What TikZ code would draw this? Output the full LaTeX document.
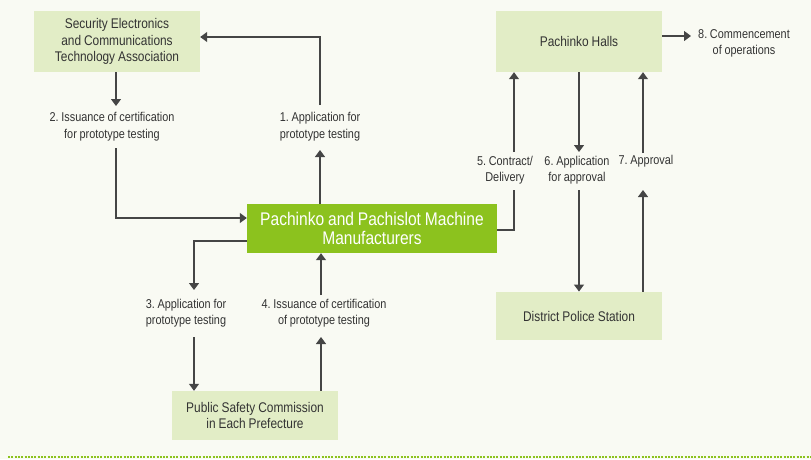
\documentclass[tikz,border=0pt]{standalone}
\usepackage{fontspec}
\setmainfont[FakeStretch=0.85,WordSpace=0.9]{Liberation Sans}
\usetikzlibrary{arrows.meta,calc}
\definecolor{bg}{HTML}{F9FAF3}
\definecolor{lgreen}{HTML}{E2EDC6}
\definecolor{dgreen}{HTML}{8CC21E}
\definecolor{ink}{HTML}{333333}
\definecolor{lnk}{HTML}{454545}
\frenchspacing
\begin{document}
\begin{tikzpicture}[x=1pt,y=-1pt,
 box/.style={fill=lgreen, text=ink, align=center, inner sep=0pt, minimum width=166pt, font=\fontsize{14}{16.5}\selectfont},
 mainbox/.style={fill=dgreen, text=white, align=center, inner sep=0pt, minimum width=250pt, minimum height=49pt, font=\fontsize{18.3}{19.5}\selectfont},
 lab/.style={text=ink, align=center, inner sep=0pt, font=\fontsize{12.8}{16.5}\selectfont},
 arr/.style={draw=lnk, line width=1.3pt, -{Triangle[width=10pt,length=7pt]}},
 ln/.style={draw=lnk, line width=1.3pt}]
\fill[bg] (0,0) rectangle (811,459);
\useasboundingbox (0,0) rectangle (811,459);

\node[box, minimum height=61pt] (secta) at (117,41.5) {Security Electronics\\and Communications\\Technology Association};
\node[box, minimum height=61pt] (halls) at (579,41.5) {Pachinko Halls};
\node[mainbox] (man) at (372,228.5) {Pachinko and Pachislot Machine\\Manufacturers};
\node[box, minimum height=48.5pt] (police) at (579,316) {District Police Station};
\node[box, minimum height=49pt] (psc) at (255,415.5) {Public Safety Commission\\in Each Prefecture};

\node[lab] (l1) at (320,126.5) {1. Application for\\prototype testing};
\node[lab] (l2) at (112,126.5) {2. Issuance of certification\\for prototype testing};
\node[lab] (l3) at (186,313) {3. Application for\\prototype testing};
\node[lab] (l4) at (324,313) {4. Issuance of certification\\of prototype testing};
\node[lab] (l5) at (505,170) {5. Contract/\\Delivery};
\node[lab] (l6) at (577,170) {6. Application\\for approval};
\node[lab] (l7) at (646,161) {7. Approval};
\node[lab] (l8) at (744,43.5) {8. Commencement\\of operations};

\coordinate (a1) at (320,150); \coordinate (b1) at (320,105);
\draw[arr] (man.north -| a1) -- (a1);
\draw[arr] (b1) |- ([yshift=4.5pt]secta.east);

\coordinate (a2) at (116,106); \coordinate (b2) at (116,148);
\draw[arr] (secta.south -| a2) -- (a2);
\draw[arr] (b2) |- ([yshift=10.5pt]man.west);

\coordinate (a3) at (194,290); \coordinate (b3) at (194,337);
\draw[arr] ([yshift=-12.5pt]man.west) -| (a3);
\draw[arr] (b3) -- (psc.north -| b3);

\coordinate (a4) at (321,337); \coordinate (b4) at (321,295);
\draw[arr] (psc.north -| a4) -- (a4);
\draw[arr] (b4) -- (man.south -| b4);

\coordinate (b5) at (514,190); \coordinate (a5) at (514,152);
\draw[ln] ([yshift=-1.5pt]man.east) -| (b5);
\draw[arr] (a5) -- (halls.south -| a5);

\coordinate (a6) at (579,152); \coordinate (b6) at (579,190);
\draw[arr] (halls.south -| a6) -- (a6);
\draw[arr] (b6) -- (police.north -| b6);

\coordinate (a7) at (643,190); \coordinate (b7) at (643,153);
\draw[arr] (police.north -| a7) -- (a7);
\draw[arr] (b7) -- (halls.south -| b7);

\coordinate (a8) at (691,36);
\draw[arr] (halls.east |- a8) -- (a8);

\draw[dgreen, line width=2pt, dash pattern=on 2pt off 1.3pt] (8,457) -- (811,457);
\end{tikzpicture}
\end{document}
